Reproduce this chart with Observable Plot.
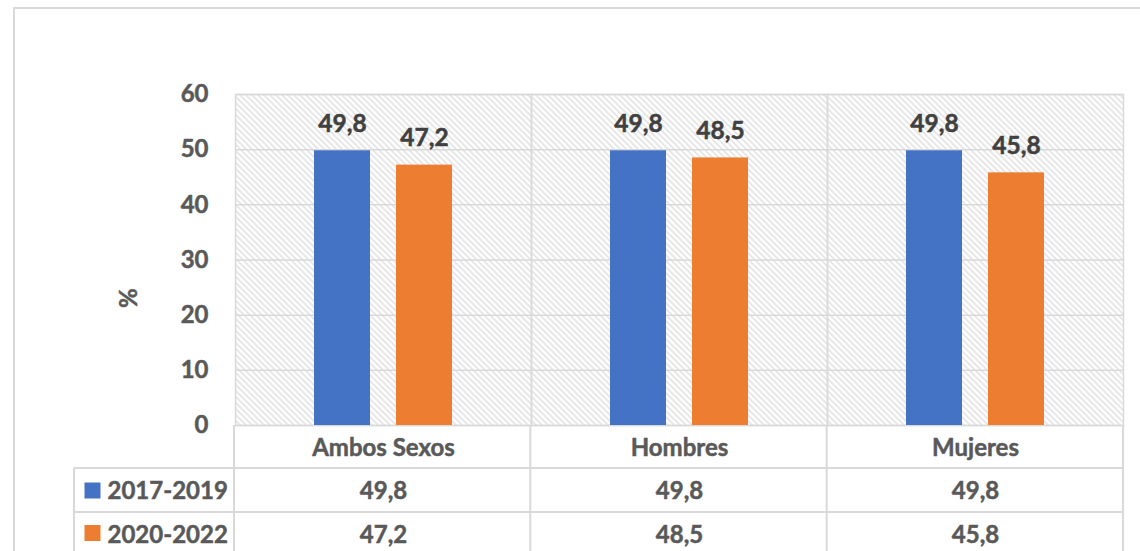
<!DOCTYPE html>
<html>
<head>
<meta charset="utf-8">
<script src="https://cdn.jsdelivr.net/npm/d3@7"></script>
<script src="https://cdn.jsdelivr.net/npm/@observablehq/plot@0.6"></script>
<style>
  html, body { margin: 0; padding: 0; background: #fff; }
  #chart svg { display: block; }
</style>
</head>
<body>
<div id="chart"></div>
<script>
// ---- Data ----
const categories = ["Ambos Sexos", "Hombres", "Mujeres"];
const periods = ["2017-2019", "2020-2022"];
const values2017_2019 = [49.8, 49.8, 49.8];
const values2020_2022 = [47.2, 48.5, 45.8];
const periodColors = ["#4472C4", "#ED7D31"];
const yTicks = [0, 10, 20, 30, 40, 50, 60];
const yLabel = "%";

// ---- Build table ----
const seriesValues = [values2017_2019, values2020_2022];
const data = [];
periods.forEach((p, i) => {
  categories.forEach((c, j) => {
    data.push({category: c, period: p, value: seriesValues[i][j]});
  });
});
const fmt = v => d3.format(".1f")(v).replace(".", ",");

// ---- Layout ----
const W = 1140, H = 551;
const mL = 234, mR = 17, mT = 94, mB = 126;
const FONT = "Lato, 'Open Sans', sans-serif";
const grid = "#d9d9d9";
const textGray = "#595959";
const labelGray = "#404040";
const row1Baseline = 73, row2Baseline = 117;   // below plot bottom
const row1Mid = 65, row2Mid = 107.5;

const rowLabels = periods.map((p, i) => ({period: p, fx: categories[0]}));

const plot = Plot.plot({
  width: W,
  height: H,
  marginLeft: mL,
  marginRight: mR,
  marginTop: mT,
  marginBottom: mB,
  style: {fontFamily: FONT, background: "transparent", overflow: "visible"},
  fx: {domain: categories, padding: 0, label: null},
  x: {domain: periods, paddingInner: 0.313, paddingOuter: 0.94, axis: null},
  y: {domain: [0, 60], ticks: yTicks, label: null},
  color: {domain: periods, range: periodColors},
  marks: [
    Plot.frame({fill: "url(#hatch)", stroke: null}),
    Plot.gridY(yTicks, {stroke: grid, strokeOpacity: 1, strokeWidth: 1.5}),
    Plot.frame({stroke: grid, strokeWidth: 1.5}),
    Plot.barY(data, {fx: "category", x: "period", y: "value", fill: "period"}),
    Plot.text(data, {fx: "category", x: "period", y: "value", text: d => fmt(d.value),
      lineAnchor: "bottom", dy: -19, fontSize: 24.5, fontWeight: "bold", fill: labelGray}),
    Plot.axisY(yTicks, {tickSize: 0, tickPadding: 27, fontSize: 24, fontWeight: "bold", fill: textGray, label: null}),
    Plot.axisFx({anchor: "bottom", tickSize: 0, tickPadding: 13, fontSize: 24, fontWeight: "bold", fill: textGray, label: null}),
    // y axis title
    Plot.text([yLabel], {fx: [categories[0]], frameAnchor: "left", dx: -106, dy: 48, rotate: -90,
      fontSize: 24, fontWeight: "bold", fill: textGray}),
    // data table values
    Plot.text(data.filter(d => d.period === periods[0]), {fx: "category", frameAnchor: "bottom", text: d => fmt(d.value),
      lineAnchor: "bottom", dy: row1Baseline, fontSize: 24, fontWeight: "bold", fill: textGray}),
    Plot.text(data.filter(d => d.period === periods[1]), {fx: "category", frameAnchor: "bottom", text: d => fmt(d.value),
      lineAnchor: "bottom", dy: row2Baseline, fontSize: 24, fontWeight: "bold", fill: textGray}),
    // row labels (legend)
    Plot.text(rowLabels.slice(0, 1), {fx: "fx", frameAnchor: "bottom-left", text: "period", textAnchor: "start",
      lineAnchor: "bottom", dx: -128, dy: row1Baseline, fontSize: 24, fontWeight: "bold", fill: textGray}),
    Plot.text(rowLabels.slice(1, 2), {fx: "fx", frameAnchor: "bottom-left", text: "period", textAnchor: "start",
      lineAnchor: "bottom", dx: -128, dy: row2Baseline, fontSize: 24, fontWeight: "bold", fill: textGray}),
    Plot.dot(rowLabels.slice(0, 1), {fx: "fx", frameAnchor: "bottom-left", symbol: "square", r: 9.03,
      fill: "period", dx: -143, dy: row1Mid}),
    Plot.dot(rowLabels.slice(1, 2), {fx: "fx", frameAnchor: "bottom-left", symbol: "square", r: 9.03,
      fill: "period", dx: -143, dy: row2Mid})
  ]
});

// hatch pattern + table borders
const svg = d3.select(plot);
const defs = svg.insert("defs", ":first-child");
const pat = defs.append("pattern").attr("id", "hatch").attr("patternUnits", "userSpaceOnUse")
  .attr("width", 6).attr("height", 6);
pat.append("rect").attr("width", 6).attr("height", 6).attr("fill", "#fff");
pat.append("path").attr("d", "M0,0L6,6M-1,5L1,7M5,-1L7,1")
  .attr("stroke", "#d2d2d2").attr("stroke-width", 1.1).attr("fill", "none");

const y = plot.scale("y");
const y0 = y.apply(0);
const plotRight = W - mR;
const facetW = (plotRight - mL) / categories.length;
const tableLeft = 74;
const rowLines = [y0 + 43, y0 + 87];
const gLines = svg.append("g").attr("stroke", grid).attr("stroke-width", 2).attr("fill", "none");
rowLines.forEach(ry => gLines.append("line").attr("x1", tableLeft).attr("x2", plotRight).attr("y1", ry).attr("y2", ry));
gLines.append("line").attr("x1", tableLeft).attr("x2", tableLeft).attr("y1", rowLines[0]).attr("y2", H);
d3.range(categories.length + 1).forEach(i => {
  const x = mL + i * facetW;
  gLines.append("line").attr("x1", x).attr("x2", x).attr("y1", y0).attr("y2", H);
});
// outer chart border
gLines.append("path").attr("d", `M14,${H}V8H${W}`);

document.getElementById("chart").appendChild(plot);

// slightly heavier text, like the reference's bold face
svg.selectAll("text").each(function() {
  const f = getComputedStyle(this).fill;
  d3.select(this).attr("stroke", f).attr("stroke-width", 0.5).attr("paint-order", "stroke");
});
</script>
</body>
</html>
